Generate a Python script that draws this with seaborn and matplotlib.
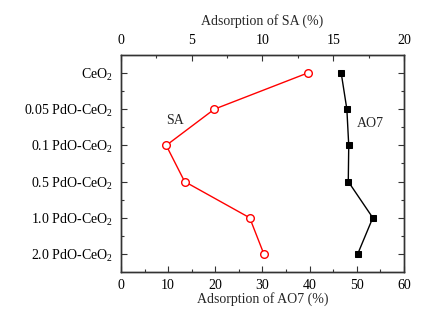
import pandas as pd
import matplotlib.pyplot as plt
import seaborn as sns
from matplotlib.ticker import MultipleLocator, FixedLocator

# dados
amostras = ['CeO$_2$', '0.05 PdO-CeO$_2$', '0.1 PdO-CeO$_2$',
            '0.5 PdO-CeO$_2$', '1.0 PdO-CeO$_2$', '2.0 PdO-CeO$_2$']
ads_ao7 = [46.7, 47.9, 48.3, 48.2, 53.4, 50.2]
ads_sa = [13.2, 6.6, 3.2, 4.5, 9.1, 10.1]

df = pd.DataFrame({'amostra': amostras, 'ao7': ads_ao7, 'sa': ads_sa})

sns.set_style('ticks')
plt.rcParams['font.family'] = ['Liberation Serif', 'DejaVu Serif']
plt.rcParams['mathtext.fontset'] = 'custom'
plt.rcParams['mathtext.rm'] = 'Liberation Serif'
plt.rcParams['mathtext.it'] = 'Liberation Serif:italic'
plt.rcParams['font.size'] = 10

fig = plt.figure(figsize=(4.32, 3.19), dpi=100)
ax = fig.add_axes([0.280, 0.147, 0.655, 0.681])

# AO7 (eixo inferior)
sns.lineplot(data=df, x='ao7', y='amostra', sort=False, estimator=None, orient='y',
             color='black', marker='s', markersize=5, markeredgecolor='black',
             linewidth=1, ax=ax)

# SA (eixo superior)
ax2 = ax.twiny()
sns.lineplot(data=df, x='sa', y='amostra', sort=False, estimator=None, orient='y',
             color='red', marker='o', markersize=5.5, markerfacecolor='white',
             markeredgecolor='red', markeredgewidth=1, linewidth=1, ax=ax2)

ax.set_xlim(0, 60)
ax2.set_xlim(0, 20)
ax.set_ylim(5.5, -0.5)

ax.xaxis.set_major_locator(MultipleLocator(10))
ax.xaxis.set_minor_locator(MultipleLocator(5))
ax2.xaxis.set_major_locator(MultipleLocator(5))
ax2.xaxis.set_minor_locator(MultipleLocator(2.5))
ax.yaxis.set_minor_locator(FixedLocator([0.5, 1.5, 2.5, 3.5, 4.5]))

ax.set_xlabel('Adsorption of AO7 (%)', fontsize=10, labelpad=0)
ax2.set_xlabel('Adsorption of SA (%)', fontsize=10, labelpad=6)
ax.set_ylabel('')
ax2.set_ylabel('')

for a in (ax, ax2):
    a.tick_params(which='both', direction='in', colors='#333333', labelcolor='black',
                  labelsize=10, width=0.8)
    a.tick_params(which='major', length=4)
    a.tick_params(which='minor', length=2)
    for s in a.spines.values():
        s.set_color('#333333')
        s.set_linewidth(1)
ax.tick_params(axis='y', which='both', right=True, left=True)
ax.tick_params(axis='y', which='major', pad=6)
ax.tick_params(axis='x', which='major', pad=5)
ax2.tick_params(axis='x', which='major', pad=6)
ax2.tick_params(axis='y', which='both', right=False, left=False, labelleft=False)

ax.text(50, 1.4, 'AO7', fontsize=10, va='center', ha='left')
ax.text(11.4, 1.3, 'SA', fontsize=10, va='center', ha='center')

plt.savefig('out.png', dpi=100)
